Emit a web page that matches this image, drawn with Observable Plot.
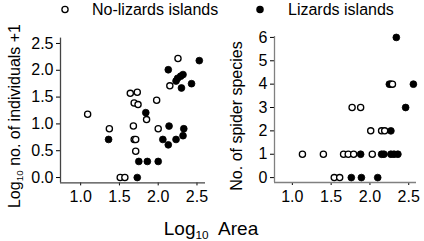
<!DOCTYPE html>
<html><head><meta charset="utf-8">
<script src="https://cdn.jsdelivr.net/npm/d3@7"></script>
<script src="https://cdn.jsdelivr.net/npm/@observablehq/plot@0.6"></script>
<style>
body{margin:0;background:#fff;font-family:"Liberation Sans",Arial,sans-serif;}
#c{position:relative;width:424px;height:241px;overflow:hidden;background:#fff}
#c svg.p{position:absolute;top:0}
.t{position:absolute;white-space:nowrap;color:#000;line-height:1}
sub{font-size:62%;line-height:0;vertical-align:-0.35em}
</style></head>
<body><div id="c"></div>
<script>
// Left panel: log10 no. of individuals +1 vs log10 area
const leftOpenX = [2.255, 2.15, 1.64, 1.73, 1.98, 1.69, 1.74, 1.09, 1.85, 1.37, 1.68, 2.00, 1.69, 1.71, 1.71, 1.51, 1.57];
const leftOpenY = [2.22, 1.71, 1.57, 1.59, 1.44, 1.39, 1.36, 1.18, 1.08, 0.91, 0.96, 0.91, 0.71, 0.71, 0.49, 0.0, 0.0];
const leftFilledX = [2.53, 2.13, 2.32, 2.29, 2.25, 2.23, 2.30, 2.43, 1.84, 2.14, 2.33, 2.32, 2.06, 2.23, 2.13, 1.36, 1.75, 1.86, 2.00, 1.73];
const leftFilledY = [2.18, 2.01, 1.92, 1.89, 1.85, 1.80, 1.67, 1.75, 1.21, 0.96, 0.91, 0.78, 0.71, 0.71, 0.61, 0.71, 0.30, 0.30, 0.30, 0.0];
// Right panel: no. of spider species vs log10 area
const rightOpenX = [1.77, 1.88, 2.01, 2.15, 2.19, 2.29, 1.13, 1.40, 1.66, 1.72, 1.79, 2.03, 1.54, 1.61];
const rightOpenY = [3, 3, 2, 2, 2, 4, 1, 1, 1, 1, 1, 1, 0, 0];
const rightFilledX = [2.34, 2.25, 2.27, 2.56, 2.46, 2.27, 1.88, 2.15, 2.18, 2.27, 2.31, 2.36, 1.76, 1.89, 2.10];
const rightFilledY = [6, 4, 4, 4, 3, 2, 1, 1, 1, 1, 1, 1, 0, 0, 0];

const xTicks = [1.0, 1.5, 2.0, 2.5];
const leftYTicks = [0.0, 0.5, 1.0, 1.5, 2.0, 2.5];
const rightYTicks = [0, 1, 2, 3, 4, 5, 6];
const legendLabels = ["No-lizards islands", "Lizards islands"];

const zip = (xs, ys) => xs.map((x, i) => ({x, y: ys[i]}));
const font = '"Liberation Sans",Arial,sans-serif';

function panel({xd, yd, yTicks, yFmt, open, filled, axisColor, ml, mr, mt, mb}) {
  return Plot.plot({
    width: 212, height: 241,
    marginLeft: ml, marginRight: mr, marginTop: mt, marginBottom: mb,
    style: {fontSize: "16px", fontFamily: font, color: "#000", background: "transparent", overflow: "visible"},
    x: {domain: xd, ticks: xTicks, tickFormat: d3.format(".1f"), tickSize: 3, tickPadding: 5, label: null},
    y: {domain: yd, ticks: yTicks, tickFormat: yFmt, tickSize: 4, tickPadding: 3, label: null},
    marks: [
      Plot.ruleX([xd[0]], {stroke: axisColor, strokeWidth: 1.3}),
      Plot.ruleY([yd[0]], {stroke: axisColor, strokeWidth: 1.3}),
      Plot.dot(filled, {x: "x", y: "y", r: 3.4, fill: "#000", stroke: "#000", strokeWidth: 0.8}),
      Plot.dot(open, {x: "x", y: "y", r: 3.1, fill: "#fff", stroke: "#000", strokeWidth: 1.3})
    ]
  });
}

const c = document.getElementById("c");
const p1 = panel({xd: [0.74, 2.61], yd: [-0.1, 2.6], yTicks: leftYTicks, yFmt: d3.format(".1f"),
  open: zip(leftOpenX, leftOpenY), filled: zip(leftFilledX, leftFilledY), axisColor: "#444",
  ml: 60, mr: 7, mt: 37.6, mb: 58.6});
p1.classList.add("p"); p1.style.left = "0px";
const p2 = panel({xd: [0.77, 2.6], yd: [-0.21, 6.04], yTicks: rightYTicks, yFmt: d3.format("d"),
  open: zip(rightOpenX, rightOpenY), filled: zip(rightFilledX, rightFilledY), axisColor: "#808080",
  ml: 62, mr: 8, mt: 36, mb: 59});
p2.classList.add("p"); p2.style.left = "212px";
c.appendChild(p1); c.appendChild(p2);

function addText(html, left, top, size, rotate) {
  const d = document.createElement("div");
  d.className = "t";
  d.innerHTML = html;
  d.style.left = left + "px"; d.style.top = top + "px"; d.style.fontSize = size + "px";
  d.style.transform = "translate(-50%,-50%)" + (rotate ? " rotate(-90deg)" : "");
  c.appendChild(d);
}
// legend
const ns = "http://www.w3.org/2000/svg";
const lg = document.createElementNS(ns, "svg");
lg.setAttribute("width", 424); lg.setAttribute("height", 20);
lg.style.position = "absolute"; lg.style.left = "0px"; lg.style.top = "0px";
[[65, "#fff"], [260, "#000"]].forEach(([cx, f]) => {
  const ci = document.createElementNS(ns, "circle");
  ci.setAttribute("cx", cx); ci.setAttribute("cy", 9.5); ci.setAttribute("r", 3.1);
  ci.setAttribute("fill", f); ci.setAttribute("stroke", "#000"); ci.setAttribute("stroke-width", 1.3);
  lg.appendChild(ci);
});
c.appendChild(lg);
const l1 = document.createElement("div"); l1.className = "t"; l1.textContent = legendLabels[0];
l1.style.cssText += "left:92px;top:2px;font-size:16px;";
const l2 = document.createElement("div"); l2.className = "t"; l2.textContent = legendLabels[1];
l2.style.cssText += "left:288px;top:2px;font-size:16px;";
c.appendChild(l1); c.appendChild(l2);

addText("Log<sub>10</sub> no. of individuals +1", 15, 116, 16, true);
addText("No. of spider species", 237, 116, 16, true);
addText("Log<sub>10</sub>&nbsp; Area", 211, 228, 19, false);
</script></body></html>
